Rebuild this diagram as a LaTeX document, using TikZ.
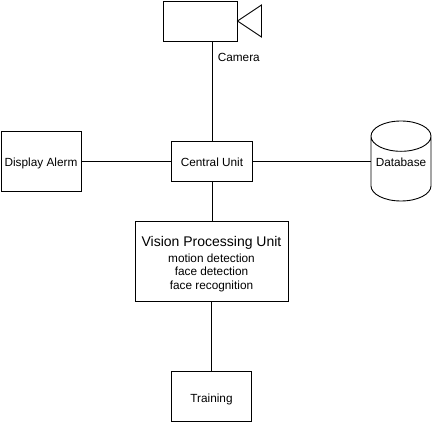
\documentclass[tikz,border=0pt]{standalone}
\usepackage{fontspec}
\setmainfont{Liberation Sans}
\usetikzlibrary{shapes.geometric}

\tikzset{
  unit/.style={draw, line width=0.9pt, inner sep=0pt, align=center, font=\fontsize{11.8}{13.7}\selectfont},
  single/.style={unit, text height=10.5pt, text depth=0pt},
  dbase/.style={unit, cylinder, shape border rotate=90, aspect=0.6, minimum width=60pt, minimum height=80pt, anchor=shape center},
  link/.style={line width=0.9pt}
}

\begin{document}
\begin{tikzpicture}[node distance = 100pt]
\useasboundingbox (0,0) rectangle (433pt,423pt);
\node[single, minimum width=81pt, minimum height=40pt] (central) at (212pt,262pt) {Central Unit};
\node[unit, minimum width=74pt, minimum height=40pt] (camera) [above of = central, node distance = 140pt, xshift = -12pt] {};
\node[single, minimum width=80pt, minimum height=60pt] (display) [left of = central, node distance = 171pt] {Display Alerm};
\node[dbase] (database) at (401pt,262pt) {\smash{\raisebox{2pt}{Database}}};
\coordinate (dbleft) at (371pt,262pt);
\node[unit, minimum width=153pt, minimum height=80pt, xshift = -0.5pt] (vision) [below of = central] {\rule{0pt}{17pt}{\fontsize{14}{17}\selectfont Vision Processing Unit}\\[1.5pt]motion detection\\face detection\\face recognition};
\node[single, text height=12pt, minimum width=80pt, minimum height=50pt] (training) [below of = vision, node distance = 135pt] {Training};

\draw[link] (camera.east) -- ++(24pt,16pt) coordinate (lenstop) -- ++(0,-32pt) coordinate (lensbottom) -- cycle;

\path[link] (central) edge node [right, pos = 0.84, font=\fontsize{11.8}{13}\selectfont, xshift = 2pt] {Camera} (camera.south -| central)
    (central) edge (display)
    (central) edge (dbleft)
    (central) edge (central |- vision.north)
    (vision) edge (training);
\end{tikzpicture}
\end{document}
